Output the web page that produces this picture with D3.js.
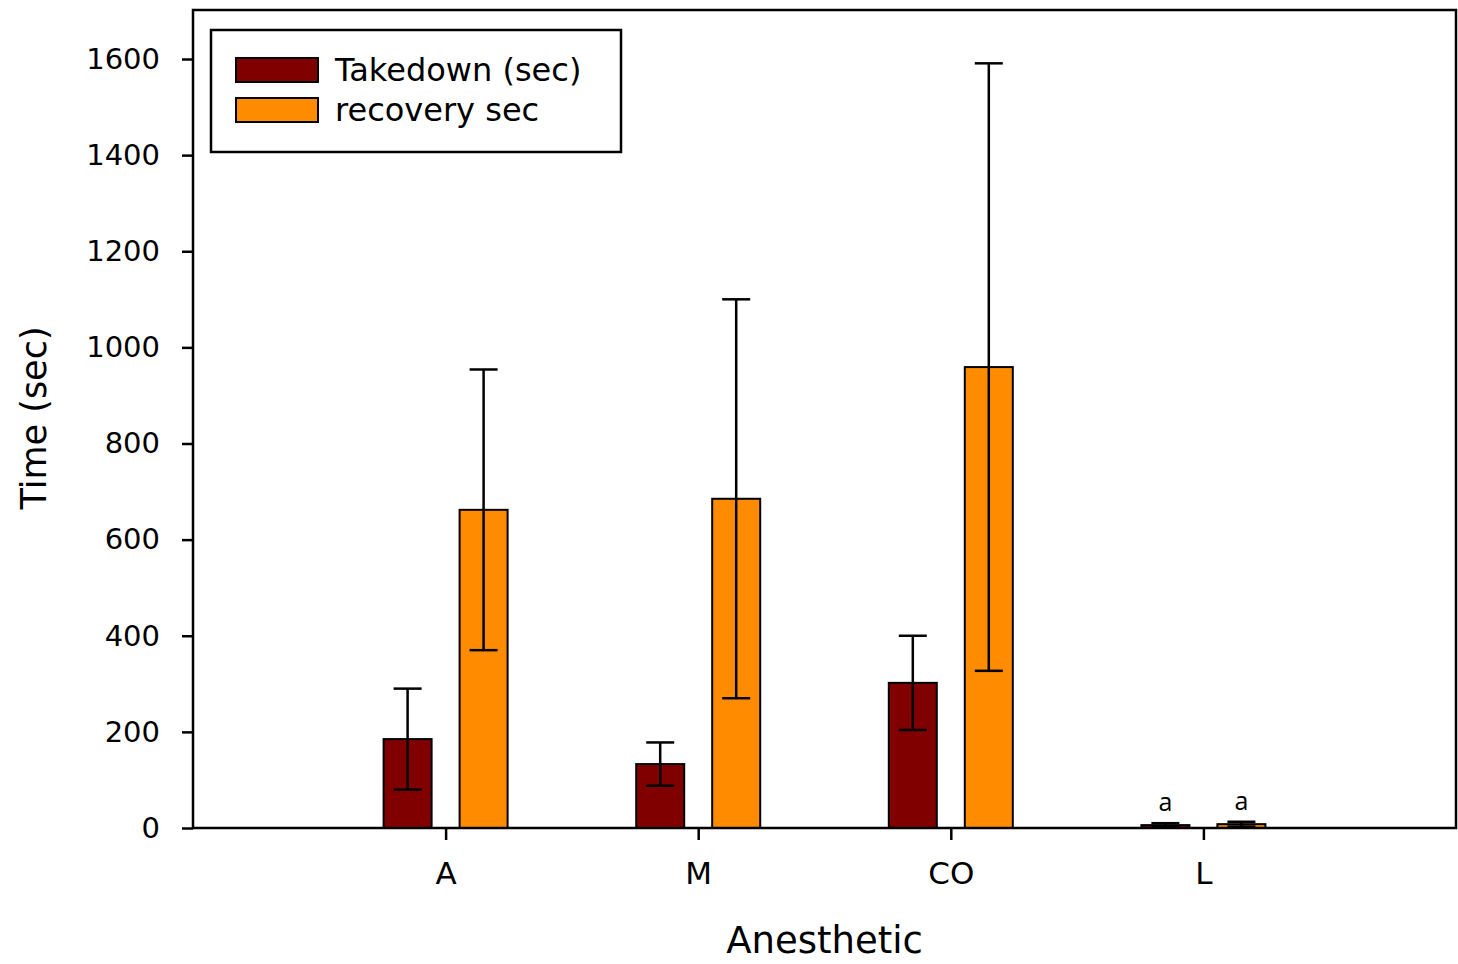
<!DOCTYPE html>
<html>
<head>
<meta charset="utf-8">
<script src="https://cdn.jsdelivr.net/npm/d3@7"></script>
<style>
  body { margin: 0; background: #fff; }
  svg { display: block; font-family: "DejaVu Sans", "Liberation Sans", Arial, sans-serif; }
</style>
</head>
<body>
<div id="chart"></div>
<script>
// ---------- data ----------
const categories = ["A", "M", "CO", "L"];
const seriesNames = ["Takedown (sec)", "recovery sec"];
const takedown = [185, 133, 302, 6];
const takedownErr = [105, 45, 98, 4];
const recovery = [662, 685, 959, 8];
const recoveryErr = [292, 415, 632, 5];
const letterLabels = ["", "", "", "a"]; // significance letters above bars
const yTicks = [0, 200, 400, 600, 800, 1000, 1200, 1400, 1600];

const colors = ["#800000", "#ff8c00"];

const W = 1458, H = 964;
const margin = { top: 10, right: 2, bottom: 136, left: 193 };
const width = W - margin.left - margin.right;
const height = H - margin.top - margin.bottom;

const svg = d3.select("#chart").append("svg")
  .attr("width", W).attr("height", H);

const g = svg.append("g")
  .attr("transform", `translate(${margin.left},${margin.top})`);

// scales
const x = d3.scaleLinear().domain([0, categories.length + 1]).range([0, width]);
// 1600 sits near pixel 59, not at the frame top
const y = d3.scaleLinear().domain([0, 1600]).range([height, height - 769]);
const barW = 48, offset = 38;

const series = [
  { name: seriesNames[0], vals: takedown, err: takedownErr, color: colors[0], dx: -offset },
  { name: seriesNames[1], vals: recovery, err: recoveryErr, color: colors[1], dx: offset }
];

// bars
series.forEach(s => {
  const grp = g.append("g");
  grp.selectAll("rect")
    .data(s.vals)
    .join("rect")
    .attr("x", (d, i) => x(i + 1) + s.dx - barW / 2)
    .attr("y", d => y(d))
    .attr("width", barW)
    .attr("height", d => y(0) - y(d))
    .attr("fill", s.color)
    .attr("stroke", "#000")
    .attr("stroke-width", 2);

  // error bars (line through bar from low to high + caps)
  const eb = grp.selectAll("g.err")
    .data(s.vals.map((v, i) => ({ v, e: s.err[i], i })))
    .join("g").attr("class", "err")
    .attr("stroke", "#000").attr("stroke-width", 2.5);
  eb.append("line")
    .attr("x1", d => x(d.i + 1) + s.dx).attr("x2", d => x(d.i + 1) + s.dx)
    .attr("y1", d => y(d.v - d.e)).attr("y2", d => y(d.v + d.e));
  eb.append("line")
    .attr("x1", d => x(d.i + 1) + s.dx - 14).attr("x2", d => x(d.i + 1) + s.dx + 14)
    .attr("y1", d => y(d.v + d.e)).attr("y2", d => y(d.v + d.e));
  eb.append("line")
    .attr("x1", d => x(d.i + 1) + s.dx - 14).attr("x2", d => x(d.i + 1) + s.dx + 14)
    .attr("y1", d => y(d.v - d.e)).attr("y2", d => y(d.v - d.e));

  // letters
  grp.selectAll("text.letter")
    .data(s.vals.map((v, i) => ({ v, e: s.err[i], i, t: letterLabels[i] })).filter(d => d.t))
    .join("text").attr("class", "letter")
    .attr("x", d => x(d.i + 1) + s.dx)
    .attr("y", d => y(d.v + d.e) - 12)
    .attr("text-anchor", "middle")
    .style("font-family", "'Open Sans', sans-serif")
    .style("font-size", "25px")
    .text(d => d.t);
});

// frame
g.append("rect")
  .attr("x", 0).attr("y", 0).attr("width", width).attr("height", height)
  .attr("fill", "none").attr("stroke", "#000").attr("stroke-width", 2.5);

// y axis
const yAxis = g.append("g")
  .call(d3.axisLeft(y).tickValues(yTicks).tickFormat(d3.format("d")).tickSize(11).tickPadding(22));
yAxis.select(".domain").remove();
yAxis.selectAll("line").attr("stroke-width", 2.5);
yAxis.selectAll("text").style("font-size", "29px").attr("fill", "#000");

// x axis
const xAxis = g.append("g")
  .attr("transform", `translate(0,${height})`)
  .call(d3.axisBottom(x).tickValues(d3.range(1, categories.length + 1))
    .tickFormat(d => categories[d - 1]).tickSize(12).tickPadding(22));
xAxis.select(".domain").remove();
xAxis.selectAll("line").attr("stroke-width", 2.5);
xAxis.selectAll("text").style("font-size", "31px").attr("fill", "#000");
svg.selectAll("g").filter(function () { return this.getAttribute("font-family"); })
  .attr("font-family", null);

// axis titles
svg.append("text")
  .attr("x", margin.left + width / 2)
  .attr("y", 953)
  .attr("text-anchor", "middle")
  .style("font-size", "37px")
  .text("Anesthetic");

svg.append("text")
  .attr("transform", `translate(46,418) rotate(-90)`)
  .attr("text-anchor", "middle")
  .style("font-size", "35px")
  .text("Time (sec)");

// legend
const lg = svg.append("g").attr("transform", "translate(211,30)");
lg.append("rect")
  .attr("width", 410).attr("height", 122)
  .attr("fill", "#fff").attr("stroke", "#000").attr("stroke-width", 2.5);
const items = lg.selectAll("g.item")
  .data(series)
  .join("g").attr("class", "item")
  .attr("transform", (d, i) => `translate(25,${28 + i * 40})`);
items.append("rect")
  .attr("width", 82).attr("height", 24)
  .attr("fill", d => d.color).attr("stroke", "#000").attr("stroke-width", 2);
items.append("text")
  .attr("x", 99).attr("y", 23)
  .style("font-size", "32px")
  .text(d => d.name);
</script>
</body>
</html>
